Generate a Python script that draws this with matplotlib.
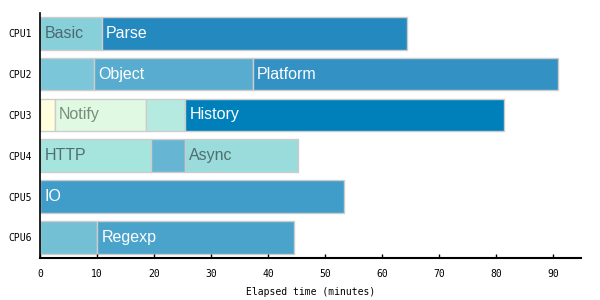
import matplotlib.pyplot as plt

cpus = ['CPU1', 'CPU2', 'CPU3', 'CPU4', 'CPU5', 'CPU6']

# one entry per bar segment
seg_cpu = [0, 0, 1, 1, 1, 2, 2, 2, 2, 3, 3, 3, 4, 5, 5]
seg_start = [0, 10.8, 0, 9.5, 37.3, 0, 2.6, 18.6, 25.5, 0, 19.4, 25.4, 0, 0, 10.0]
seg_end = [10.8, 64.3, 9.5, 37.3, 90.9, 2.6, 18.6, 25.5, 81.4, 19.4, 25.4, 45.2, 53.3, 10.0, 44.6]
seg_label = ['Basic', 'Parse', '', 'Object', 'Platform', '', 'Notify', '', 'History',
             'HTTP', '', 'Async', 'IO', '', 'Regexp']
seg_color = ['#88d0d9', '#2389bf', '#7cc6da', '#58acd0', '#3391c4', '#ffffde', '#dff9e2',
             '#b4eadf', '#0080bb', '#a6e5dd', '#66b5d3', '#9adcdc', '#409cc8', '#73bfd4',
             '#4aa3cb']
seg_text = ['#4a6a6e', 'white', 'white', 'white', 'white', 'white', '#7a8c7c', 'white',
            'white', '#4f6f6e', 'white', '#4f6f6e', 'white', 'white', 'white']

fig = plt.figure(figsize=(6, 3), dpi=100)
ax = fig.add_axes([0.067, 0.141, 0.902, 0.816])

for i in range(len(seg_cpu)):
    w = seg_end[i] - seg_start[i]
    ax.barh(seg_cpu[i], w, left=seg_start[i], height=0.8, color=seg_color[i],
            edgecolor='#cccccc', linewidth=1)
    if seg_label[i]:
        ax.annotate(seg_label[i], (seg_start[i], seg_cpu[i]), xytext=(3, 0),
                    textcoords='offset points', va='center', ha='left',
                    fontsize=11.5, color=seg_text[i], family='Liberation Sans')

ax.set_yticks(range(len(cpus)))
ax.set_yticklabels(cpus, family='DejaVu Sans Mono', fontsize=7)
ax.set_ylim(5.5, -0.5)
ax.set_xlim(0, 95)
ax.set_xticks(range(0, 100, 10))
for lab in ax.get_xticklabels():
    lab.set_family('DejaVu Sans Mono')
    lab.set_fontsize(7)
ax.tick_params(axis='y', length=0, pad=6)
ax.tick_params(axis='x', direction='in', length=3, width=1, pad=8)
ax.set_xlabel('Elapsed time (minutes)', family='DejaVu Sans Mono', fontsize=7, labelpad=6)

ax.spines['top'].set_visible(False)
ax.spines['right'].set_visible(False)
ax.spines['left'].set_linewidth(1.2)
ax.spines['bottom'].set_linewidth(1.5)

fig.savefig('out.png', dpi=100)
